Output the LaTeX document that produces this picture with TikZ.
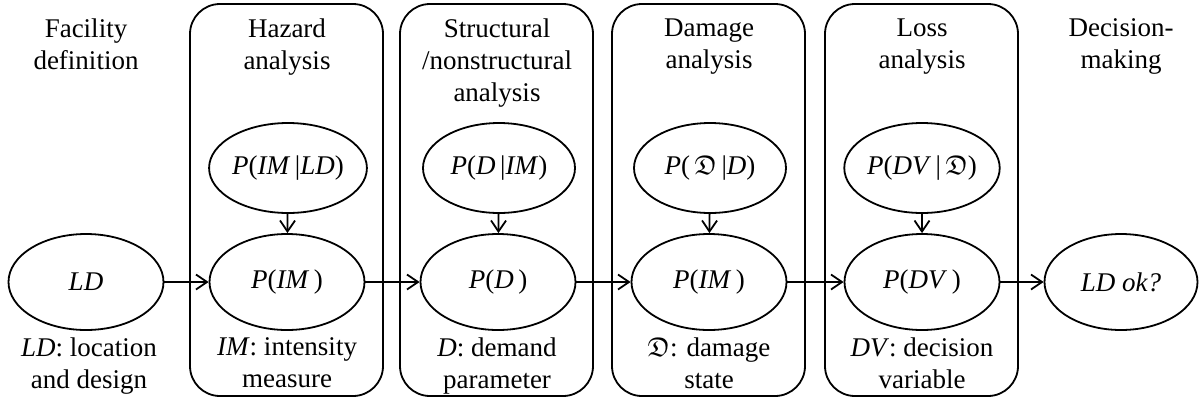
\documentclass[tikz,border=0pt]{standalone}
\usepackage{amssymb}
\usepackage{fontspec}
\setmainfont{Liberation Serif}
\usetikzlibrary{arrows.meta,positioning,shapes.geometric}

\begin{document}
\begin{tikzpicture}[x=1pt,y=-1pt,line width=1.8pt,
    every node/.style={font=\fontsize{27}{32}\selectfont},
    state/.style={draw,ellipse,inner sep=0pt,minimum width=155pt,minimum height=96pt},
    cond/.style={draw,ellipse,inner sep=0pt,minimum width=152pt,minimum height=90pt},
    stage/.style={align=center,anchor=north,inner sep=0pt},
    >={Straight Barb[length=11pt,width=15pt]}]
    \useasboundingbox (0,0) rectangle (1200,400);
    % analysis boxes
    \draw[rounded corners=30pt] (190,4) rectangle (383,396);
    \draw[rounded corners=30pt] (400,4) rectangle (593,396);
    \draw[rounded corners=30pt] (612,4) rectangle (805,396);
    \draw[rounded corners=30pt] (825,4) rectangle (1018,396);
    % headings
    \node[stage] (fac) at (86,18) {Facility\\definition};
    \node[stage] (haz) at (287,18) {Hazard\\analysis};
    \node[stage] (str) at (497,18) {Structural\\/nonstructural\\analysis};
    \node[stage] (dam) at (709,18) {Damage\\analysis};
    \node[stage] (los) at (922,18) {Loss\\analysis};
    \node[stage] (dec) at (1121,18) {Decision-\\making};
    % chain
    \node[state] (ld) at (86,282) {\textit{LD}};
    \node[state] (pim) at (287,282) {\textit{P}(\textit{IM}\,)};
    \node[state] (pd) at (498,282) {\textit{P}(\textit{D}\,)};
    \node[state] (pdam) at (709,282) {\textit{P}(\textit{IM}\,)};
    \node[state] (pdv) at (922,282) {\textit{P}(\textit{DV}\,)};
    \node[state,minimum width=153pt] (ok) at (1121,282) {\textit{LD ok?}};
    % conditionals
    \node[cond] (pimld) at (288,168) {\textit{P}(\textit{IM}\,|\textit{LD})};
    \node[cond] (pdim) at (499,168) {\textit{P}(\textit{D}\,|\textit{IM})};
    \node[cond] (pdamd) at (710,168) {\textit{P}(\,$\mathfrak{D}$\,|\textit{D})};
    \node[cond] (pdvdam) at (922,168) {\textit{P}(\textit{DV}\,|\,$\mathfrak{D}$)};
    \draw[->] (ld) -- (pim);
    \draw[->] (pim) -- (pd);
    \draw[->] (pd) -- (pdam);
    \draw[->] (pdam) -- (pdv);
    \draw[->] (pdv) -- (ok);
    \draw[->] (pimld) -- (pim);
    \draw[->] (pdim) -- (pd);
    \draw[->] (pdamd) -- (pdam);
    \draw[->] (pdvdam) -- (pdv);
    % variables
    \node[stage] (ldtxt) at (89,337) {\textit{LD}: location\\and design};
    \node[stage] (imtxt) at (287,337) {\textit{IM}: intensity\\measure};
    \node[stage] (dtxt) at (497,337) {\textit{D}: demand\\parameter};
    \node[stage] (damtxt) at (709,337) {$\mathfrak{D}$: damage\\state};
    \node[stage] (dvtxt) at (922,337) {\textit{DV}: decision\\variable};
\end{tikzpicture}
\end{document}
